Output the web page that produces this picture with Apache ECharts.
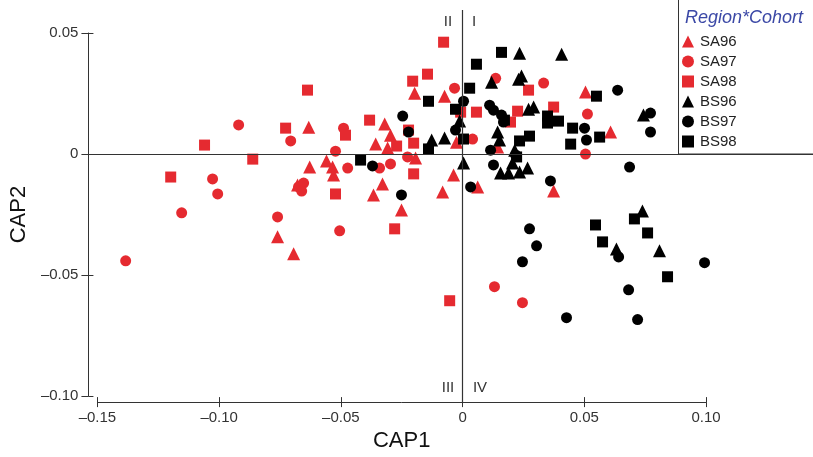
<!DOCTYPE html>
<html>
<head>
<meta charset="utf-8">
<script src="https://cdn.jsdelivr.net/npm/echarts@6/dist/echarts.min.js"></script>
<style>
  html, body { margin: 0; padding: 0; background: #fff; }
  #chart { width: 813px; height: 457px; }
</style>
</head>
<body>
<div id="chart"></div>
<script>
// CAP1 / CAP2 scores, one array per region*cohort
const SA96 = [
  [-0.0760, -0.0342], [-0.0694, -0.0412], [-0.0678, -0.0128], [-0.0632, 0.0111],
  [-0.0628, -0.0054], [-0.0559, -0.0029], [-0.0534, -0.0054], [-0.0530, -0.0087],
  [-0.0366, -0.0169], [-0.0329, -0.0124], [-0.0357, 0.0041], [-0.0320, 0.0124],
  [-0.0296, 0.0078], [-0.0308, 0.0025], [-0.0197, 0.0251], [-0.0074, 0.0239],
  [-0.0193, -0.0016], [-0.0251, -0.0231], [-0.0082, -0.0157], [-0.0037, -0.0087],
  [-0.0025, 0.0049], [0.0062, -0.0136], [0.0144, 0.0029], [0.0374, -0.0153],
  [0.0505, 0.0256], [0.0608, 0.0091]
]
const SA97 = [
  [-0.1384, -0.0441], [-0.1154, -0.0243], [-0.1027, -0.0103], [-0.1006, -0.0165],
  [-0.0920, 0.0120], [-0.0760, -0.0260], [-0.0706, 0.0054], [-0.0674, -0.0136],
  [-0.0653, -0.0120], [-0.0661, -0.0153], [-0.0505, -0.0317], [-0.0522, 0.0012],
  [-0.0489, 0.0107], [-0.0472, -0.0058], [-0.0341, -0.0058], [-0.0296, -0.0041],
  [-0.0226, -0.0012], [-0.0033, 0.0272], [0.0041, 0.0062], [0.0136, 0.0313],
  [0.0333, 0.0293], [0.0513, 0.0165], [0.0505, 0.0000], [0.0131, -0.0548],
  [0.0246, -0.0614]
]
const SA98 = [
  [-0.1199, -0.0095], [-0.1060, 0.0037], [-0.0862, -0.0021], [-0.0727, 0.0107],
  [-0.0637, 0.0264], [-0.0522, -0.0165], [-0.0481, 0.0078], [-0.0382, 0.0140],
  [-0.0279, -0.0309], [-0.0271, 0.0033], [-0.0222, 0.0099], [-0.0205, 0.0301],
  [-0.0201, 0.0045], [-0.0201, -0.0082], [-0.0144, 0.0330], [-0.0078, 0.0462],
  [-0.0053, -0.0606], [-0.0008, 0.0173], [0.0057, 0.0173], [0.0271, 0.0264],
  [0.0226, 0.0177], [0.0197, 0.0132], [0.0374, 0.0194]
]
const BS96 = [
  [-0.0127, 0.0058], [-0.0074, 0.0066], [-0.0012, 0.0136], [0.0004, -0.0037],
  [0.0119, 0.0297], [0.0152, 0.0058], [0.0234, 0.0416], [0.0242, 0.0322],
  [0.0230, 0.0309], [0.0271, 0.0185], [0.0292, 0.0194], [0.0407, 0.0412],
  [0.0214, 0.0016], [0.0156, -0.0078], [0.0189, -0.0078], [0.0234, -0.0074],
  [0.0267, -0.0058], [0.0205, -0.0037], [0.0743, 0.0161], [0.0739, -0.0235],
  [0.0632, -0.0392], [0.0809, -0.0400], [0.0144, 0.0091]
]
const BS97 = [
  [-0.0370, -0.0049], [-0.0251, -0.0169], [-0.0246, 0.0157], [-0.0222, 0.0091],
  [-0.0029, 0.0099], [0.0004, 0.0218], [0.0033, -0.0136], [0.0111, 0.0202],
  [0.0127, 0.0181], [0.0160, 0.0161], [0.0168, 0.0132], [0.0115, 0.0016],
  [0.0127, -0.0045], [0.0218, -0.0004], [0.0361, -0.0111], [0.0501, 0.0107],
  [0.0509, 0.0058], [0.0637, 0.0264], [0.0772, 0.0169], [0.0772, 0.0091],
  [0.0686, -0.0054], [0.0275, -0.0309], [0.0304, -0.0379], [0.0246, -0.0445],
  [0.0427, -0.0676], [0.0641, -0.0425], [0.0682, -0.0561], [0.0719, -0.0684],
  [0.0994, -0.0449]
]
const BS98 = [
  [-0.0419, -0.0025], [-0.0140, 0.0218], [-0.0140, 0.0021], [-0.0029, 0.0185],
  [0.0004, 0.0062], [0.0029, 0.0272], [0.0057, 0.0371], [0.0160, 0.0420],
  [0.0172, 0.0140], [0.0222, -0.0012], [0.0234, 0.0054], [0.0275, 0.0074],
  [0.0349, 0.0157], [0.0349, 0.0128], [0.0394, 0.0136], [0.0452, 0.0107],
  [0.0444, 0.0041], [0.0550, 0.0239], [0.0563, 0.0070], [0.0546, -0.0293],
  [0.0575, -0.0363], [0.0706, -0.0268], [0.0760, -0.0326], [0.0842, -0.0507]
]

const groupNames = ['SA96', 'SA97', 'SA98', 'BS96', 'BS97', 'BS98']
const groupData = [SA96, SA97, SA98, BS96, BS97, BS98]
const groupSymbols = ['triangle', 'circle', 'rect', 'triangle', 'circle', 'rect']
const groupSizes = [13, 11, 11, 13, 11, 11]
const groupColors = ['#e52a30', '#e52a30', '#e52a30', '#000', '#000', '#000']

const xTicks = [-0.15, -0.10, -0.05, 0, 0.05, 0.10]
const yTicks = [-0.10, -0.05, 0, 0.05]
const quadrantLabels = ['I', 'II', 'III', 'IV']

const FONT = '"Liberation Sans", Arial, sans-serif'
const AXIS_COLOR = '#333'

const fmt = (v) => {
  if (Math.abs(v) < 1e-9) return '0'
  return (v < 0 ? '\u2013' : '') + Math.abs(v).toFixed(2)
}

const myChart = echarts.init(document.getElementById('chart'), null, { renderer: 'canvas' })

const scatterSeries = groupNames.map((name, i) => ({
  name: name,
  type: 'scatter',
  xAxisIndex: 0,
  yAxisIndex: 0,
  symbol: groupSymbols[i],
  symbolSize: groupSizes[i],
  itemStyle: { color: groupColors[i], opacity: 1 },
  data: groupData[i],
  z: 3
}))

const baseX = {
  type: 'value',
  gridIndex: 0,
  position: 'bottom',
  min: xTicks[0],
  max: xTicks[xTicks.length - 1],
  interval: 0.05,
  offset: 6,
  splitLine: { show: false }
}
const baseY = {
  type: 'value',
  gridIndex: 0,
  position: 'left',
  min: yTicks[0],
  max: yTicks[yTicks.length - 1],
  interval: 0.05,
  offset: 9,
  splitLine: { show: false }
}

myChart.setOption({
  animation: false,
  backgroundColor: '#fff',
  title: {
    text: 'Region*Cohort',
    left: 685,
    top: 9,
    padding: 0,
    textStyle: {
      fontFamily: FONT,
      fontSize: 18,
      fontStyle: 'italic',
      fontWeight: 'normal',
      color: '#3b48a6'
    }
  },
  legend: {
    orient: 'vertical',
    left: 682,
    top: 34,
    padding: 0,
    itemWidth: 12,
    itemHeight: 12,
    itemGap: 5,
    data: groupNames,
    textStyle: { fontFamily: FONT, fontSize: 15, color: '#222', padding: [0, 0, 0, 1] }
  },
  grid: [
    { left: 97, right: 107, top: 33, bottom: 60 },
    // pixel-sized helper grid for the zero cross lines that run past the axes
    { left: 88, right: 0, top: 10, bottom: 54 }
  ],
  xAxis: [
    Object.assign({}, baseX, {
      axisLine: { show: true, onZero: false, lineStyle: { color: AXIS_COLOR, width: 1 } },
      axisTick: { show: true, length: 5, lineStyle: { color: AXIS_COLOR } },
      axisLabel: {
        formatter: fmt,
        margin: 8,
        fontFamily: FONT,
        fontSize: 15,
        color: '#333'
      },
      name: 'CAP1',
      nameLocation: 'middle',
      nameGap: 27,
      nameTextStyle: { fontFamily: FONT, fontSize: 22, color: '#111' }
    }),
    Object.assign({}, baseX, {
      axisLine: { show: false, onZero: false },
      axisTick: { show: true, inside: true, length: 5, lineStyle: { color: AXIS_COLOR } },
      axisLabel: { show: false }
    }),
    {
      type: 'value', gridIndex: 1, min: -374, max: 351, show: false
    }
  ],
  yAxis: [
    Object.assign({}, baseY, {
      axisLine: { show: true, onZero: false, lineStyle: { color: AXIS_COLOR, width: 1 } },
      axisTick: { show: true, length: 7, lineStyle: { color: AXIS_COLOR } },
      axisLabel: {
        formatter: fmt,
        margin: 10,
        fontFamily: FONT,
        fontSize: 15,
        color: '#333'
      },
      name: 'CAP2',
      nameLocation: 'middle',
      nameGap: 54,
      nameTextStyle: { fontFamily: FONT, fontSize: 22, color: '#111' }
    }),
    Object.assign({}, baseY, {
      axisLine: { show: false, onZero: false },
      axisTick: { show: true, inside: true, length: 5, lineStyle: { color: AXIS_COLOR } },
      axisLabel: { show: false }
    }),
    {
      type: 'value', gridIndex: 1, min: -249, max: 144, show: false
    }
  ],
  graphic: [
    // legend frame
    {
      type: 'rect',
      shape: { x: 678.5, y: -5, width: 150, height: 159 },
      style: { fill: 'none', stroke: '#333', lineWidth: 1 },
      silent: true,
      z: 0
    },
    { type: 'text', x: 474, y: 22, style: { text: quadrantLabels[0], font: '15px ' + FONT, fill: '#333', align: 'center', verticalAlign: 'middle' } },
    { type: 'text', x: 448, y: 22, style: { text: quadrantLabels[1], font: '15px ' + FONT, fill: '#333', align: 'center', verticalAlign: 'middle' } },
    { type: 'text', x: 448, y: 388, style: { text: quadrantLabels[2], font: '15px ' + FONT, fill: '#333', align: 'center', verticalAlign: 'middle' } },
    { type: 'text', x: 480, y: 388, style: { text: quadrantLabels[3], font: '15px ' + FONT, fill: '#333', align: 'center', verticalAlign: 'middle' } }
  ],
  series: [
    {
      name: 'zero',
      type: 'scatter',
      xAxisIndex: 2,
      yAxisIndex: 2,
      data: [],
      z: 1,
      markLine: {
        silent: true,
        symbol: 'none',
        label: { show: false },
        lineStyle: { color: AXIS_COLOR, width: 1.2, type: 'solid' },
        data: [{ xAxis: 0 }, { yAxis: 0 }]
      }
    }
  ].concat(scatterSeries)
})
</script>
</body>
</html>
